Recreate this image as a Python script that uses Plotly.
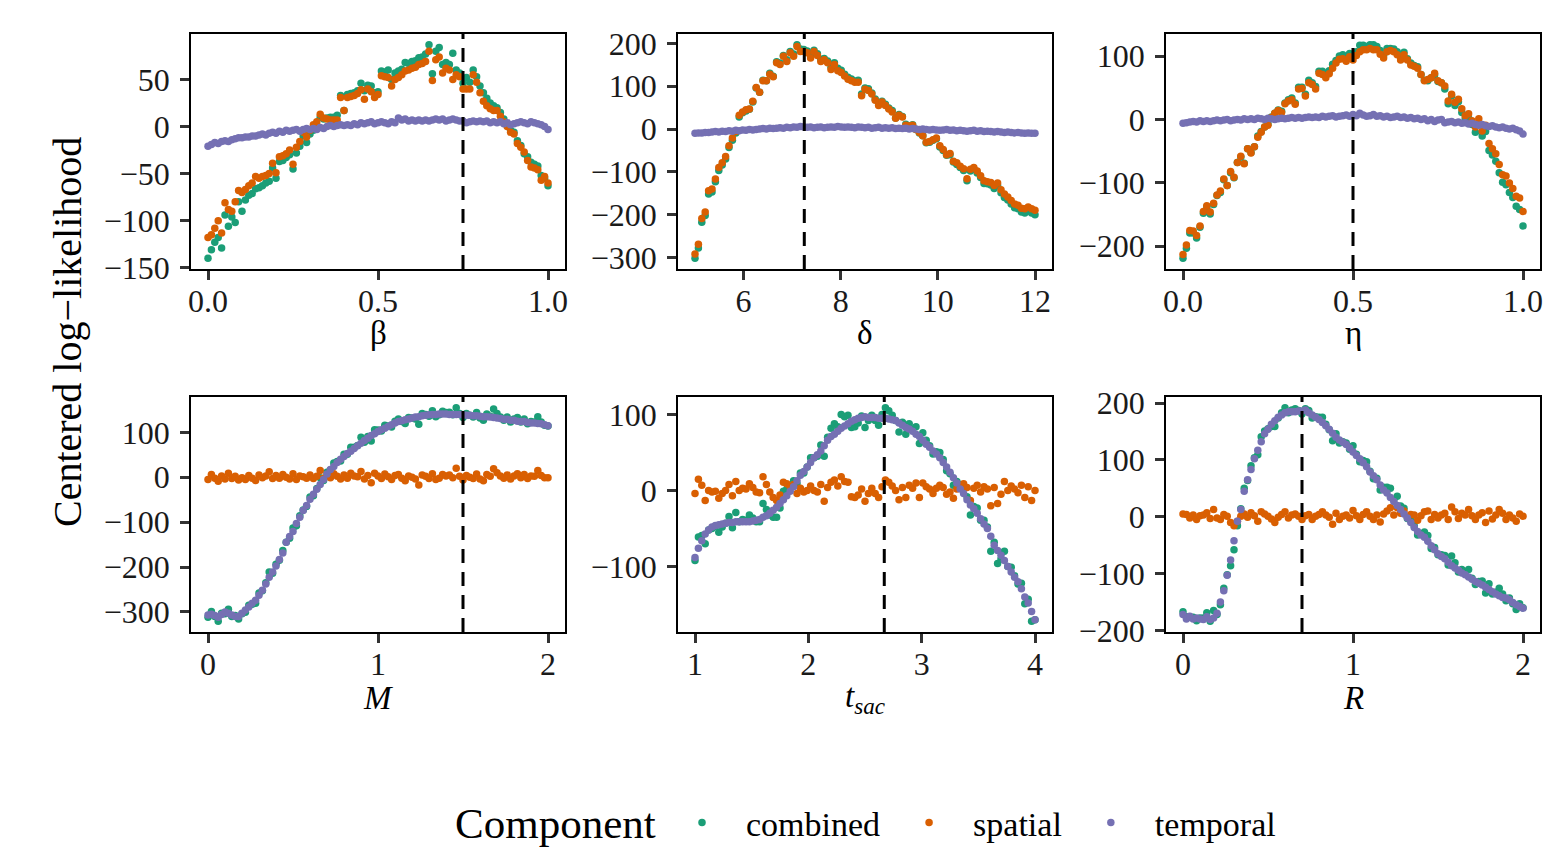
import numpy as np
import plotly.graph_objects as go

# ---- data: centred log-likelihood profiles, one grid per parameter ----
beta_combined = [-140, -131, -123, -118, -129, -94, -106, -96, -102, -80,
                 -90, -78, -73, -71, -66, -65, -63, -60, -58, -44,
                 -55, -37, -36, -33, -30, -45, -28, -21, -10, -17,
                 -8, -4, 1, 10, 8, 9, 10, 10, 12, 33,
                 17, 34, 35, 36, 38, 46, 38, 44, 43, 36,
                 37, 59, 58, 60, 50, 57, 59, 61, 68, 67,
                 69, 70, 73, 74, 77, 87, 56, 80, 84, 66,
                 68, 66, 78, 60, 57, 46, 52, 47, 60, 53,
                 43, 36, 30, 25, 22, 20, 15, 8, 2, -4,
                 -6, -15, -20, -29, -32, -38, -40, -42, -52, -55, -63]
beta_spatial = [-118, -115, -108, -100, -113, -81, -88, -90, -80, -68,
                -70, -67, -63, -60, -53, -55, -53, -52, -50, -39,
                -49, -32, -31, -29, -25, -40, -22, -16, -6, -11,
                -4, 2, 5, 13, 9, 8, 7, 7, 7, 31,
                17, 31, 32, 33, 35, 39, 29, 40, 37, 31,
                34, 54, 53, 52, 43, 50, 52, 55, 59, 60,
                62, 63, 66, 67, 69, 80, 49, 71, 74, 57,
                62, 60, 50, 55, 53, 40, 40, 40, 55, 47,
                36, 27, 22, 19, 17, 17, 11, 5, 0, -6,
                -8, -18, -22, -27, -36, -43, -44, -46, -57, -53, -60]
beta_temporal = [-21, -19, -17, -18, -16, -15, -16, -14, -13, -12,
                 -12, -11, -11, -10, -10, -9, -8, -9, -7, -6,
                 -7, -5, -6, -4, -5, -4, -3, -5, -3, -2,
                 -3, -2, -3, -1, -2, 0, 1, 0, 1, 2,
                 1, 2, 1, 3, 2, 4, 3, 4, 5, 3,
                 4, 5, 4, 3, 5, 4, 9, 7, 8, 6,
                 7, 6, 7, 6, 7, 6, 7, 8, 7, 8,
                 6, 7, 8, 7, 6, 6, 4, 5, 6, 5,
                 6, 5, 6, 4, 5, 4, 5, 3, 4, 2,
                 3, 4, 5, 4, 3, 5, 4, 3, 2, 0, -3]

delta_combined = [-302, -278, -218, -202, -152, -147, -123, -97, -84, -70,
                  -43, -26, -9, 28, 38, 42, 46, 63, 96, 86,
                  114, 113, 130, 123, 157, 154, 172, 162, 181, 175,
                  197, 187, 186, 182, 171, 184, 176, 163, 165, 159,
                  144, 155, 142, 137, 128, 121, 117, 112, 114, 82,
                  96, 94, 84, 70, 59, 65, 58, 49, 43, 26,
                  34, 29, 11, 7, 10, -1, -9, -16, -32, -31,
                  -26, -23, -42, -50, -61, -60, -77, -83, -90, -97,
                  -121, -98, -93, -103, -113, -127, -128, -131, -139, -132,
                  -149, -160, -166, -175, -184, -186, -194, -196, -191, -196, -200]
delta_spatial = [-292, -269, -209, -194, -144, -140, -117, -90, -79, -64,
                 -39, -21, -6, 32, 40, 45, 47, 65, 97, 86,
                 113, 113, 128, 122, 155, 151, 170, 158, 178, 170,
                 193, 181, 181, 178, 166, 181, 172, 158, 162, 155,
                 139, 151, 136, 132, 124, 116, 113, 109, 109, 78,
                 93, 90, 82, 67, 55, 63, 55, 47, 40, 25,
                 32, 28, 9, 7, 9, -1, -8, -16, -31, -29,
                 -25, -21, -39, -48, -60, -57, -75, -79, -87, -93,
                 -116, -94, -90, -98, -109, -121, -123, -125, -132, -126,
                 -142, -152, -159, -167, -175, -178, -185, -186, -182, -186, -190]
delta_temporal = [-10, -9, -9, -8, -8, -7, -6, -7, -5, -6,
                  -4, -5, -3, -4, -2, -3, -1, -2, -1, 0,
                  1, 0, 2, 1, 2, 3, 2, 4, 3, 5,
                  4, 6, 5, 4, 5, 3, 4, 5, 3, 4,
                  5, 4, 6, 5, 4, 5, 4, 3, 5, 4,
                  3, 4, 2, 3, 4, 2, 3, 2, 3, 1,
                  2, 1, 2, 0, 1, 0, -1, 0, -1, -2,
                  -1, -2, -3, -2, -1, -3, -2, -4, -3, -4,
                  -5, -4, -3, -5, -4, -6, -5, -6, -7, -6,
                  -7, -8, -7, -8, -9, -8, -9, -10, -9, -10, -10]

eta_combined = [-219, -203, -179, -179, -187, -170, -148, -138, -149, -134,
                -120, -115, -95, -104, -84, -92, -68, -59, -69, -46,
                -52, -43, -26, -19, -12, -7, 4, 10, 15, 13,
                26, 31, 34, 26, 51, 51, 40, 62, 58, 52,
                76, 76, 70, 77, 87, 93, 100, 102, 99, 104,
                102, 107, 117, 117, 115, 118, 118, 115, 109, 101,
                112, 112, 111, 107, 97, 106, 96, 89, 85, 83,
                71, 62, 61, 66, 70, 60, 58, 48, 25, 37,
                22, 28, 11, 1, 2, -8, -20, -8, -26, -19,
                -49, -56, -66, -84, -99, -103, -115, -123, -137, -142, -168]
eta_spatial = [-213, -198, -175, -176, -183, -168, -145, -136, -146, -132,
               -119, -113, -94, -104, -82, -91, -68, -58, -70, -46,
               -53, -43, -28, -20, -12, -9, 3, 10, 14, 11,
               25, 29, 31, 24, 48, 49, 37, 58, 55, 48,
               73, 71, 66, 72, 81, 89, 95, 96, 92, 99,
               94, 101, 107, 110, 110, 112, 110, 110, 103, 97,
               107, 109, 107, 102, 94, 102, 94, 86, 84, 81,
               71, 61, 63, 66, 73, 61, 58, 53, 29, 40,
               27, 32, 17, 6, 9, -2, -12, 1, -18, -9,
               -38, -46, -54, -71, -87, -89, -100, -109, -121, -124, -145]
eta_temporal = [-6, -5, -4, -3, -4, -2, -3, -2, -3, -2,
                -1, -2, -1, 0, -2, -1, 0, -1, 1, 0,
                1, 0, 2, 1, 0, 2, 1, 0, 1, 2,
                1, 2, 3, 2, 3, 2, 3, 4, 3, 4,
                3, 5, 4, 5, 6, 4, 5, 6, 7, 5,
                8, 6, 10, 7, 5, 6, 8, 5, 6, 4,
                5, 3, 4, 5, 3, 4, 2, 3, 1, 2,
                0, 1, -2, 0, -3, -1, 0, -5, -4, -3,
                -5, -4, -6, -5, -7, -6, -8, -9, -8, -10,
                -11, -10, -12, -13, -12, -14, -15, -14, -16, -18, -23]

M_combined = [-312, -299, -310, -321, -303, -304, -294, -310, -308, -316,
              -304, -301, -285, -283, -281, -258, -253, -235, -211, -214,
              -194, -185, -163, -145, -136, -113, -108, -86, -73, -65,
              -44, -41, -25, -1, -7, 11, 16, 32, 35, 36,
              51, 51, 67, 67, 71, 89, 78, 91, 81, 106,
              105, 103, 116, 114, 112, 125, 130, 124, 120, 133,
              132, 130, 118, 142, 140, 136, 148, 135, 139, 147,
              144, 145, 139, 155, 142, 133, 142, 138, 134, 144,
              132, 127, 141, 136, 152, 142, 134, 127, 134, 123,
              130, 133, 123, 130, 119, 124, 123, 135, 123, 116, 114]
M_spatial = [-5, 6, -2, -9, 3, -4, 9, -3, 2, -6,
             -1, -5, 4, -2, -7, 5, -1, 3, 12, -3,
             4, -2, 6, 0, -4, 8, -5, 3, 1, -2,
             5, -3, 2, 15, -2, 4, -1, 8, 2, -4,
             5, -2, 9, 3, 1, 13, -4, 4, -12, 9,
             3, -3, 7, 1, -5, 4, 6, -2, -8, 3,
             0, -4, -17, 5, 2, -3, 8, -5, -2, 6,
             3, 5, -1, 20, 2, -6, 4, 0, -3, 7,
             -4, -8, 6, 2, 19, 10, 3, -2, 5, -4,
             3, 8, -1, 6, -3, 3, 2, 15, 4, -1, -1]
M_temporal = [-307, -305, -308, -312, -306, -300, -303, -307, -310, -310,
              -303, -296, -289, -281, -274, -263, -252, -238, -223, -211,
              -198, -183, -169, -145, -132, -121, -103, -89, -74, -63,
              -49, -38, -27, -16, -5, 7, 17, 24, 33, 40,
              46, 53, 58, 64, 70, 76, 82, 87, 93, 97,
              102, 106, 109, 113, 117, 121, 124, 126, 128, 130,
              132, 134, 135, 137, 138, 139, 140, 140, 141, 141,
              141, 140, 140, 140, 140, 139, 138, 138, 137, 137,
              136, 135, 135, 134, 133, 132, 131, 129, 129, 127,
              127, 125, 124, 124, 122, 121, 121, 120, 119, 117, 115]

tsac_combined = [-92, -61, -59, -70, -52, -50, -47, -55, -48, -43,
                 -34, -49, -29, -41, -38, -39, -32, -36, -41, -41,
                 -17, -25, -32, -35, -35, -23, -1, 2, 4, 13,
                 9, 23, 23, 31, 43, 43, 45, 60, 45, 70,
                 82, 88, 84, 100, 97, 99, 83, 84, 89, 98,
                 83, 92, 99, 92, 86, 100, 109, 105, 99, 92,
                 77, 90, 74, 88, 81, 84, 62, 76, 66, 59,
                 48, 51, 50, 41, 26, 22, 7, 12, 8, 5,
                 -8, -32, -21, -23, -39, -39, -48, -80, -68, -96,
                 -90, -80, -100, -101, -112, -123, -122, -149, -143, -172, -170]
tsac_spatial = [-4, 15, 7, -13, 0, -2, -1, -10, -4, 0,
                8, -7, 12, 0, 3, 2, 9, 4, -2, -3,
                18, 8, -2, -9, -13, -6, 11, 9, 5, 8,
                -4, 3, -2, 0, 6, 0, -2, 8, -14, 4,
                11, 14, 6, 18, 12, 11, -8, -9, -6, 2,
                -14, -4, 3, -4, -9, 5, 14, 11, 6, 0,
                -12, 4, -9, 7, 3, 10, -9, 10, 5, 2,
                -4, 3, 7, 4, -5, -2, -10, 2, 6, 9,
                4, -13, 3, 7, -2, 5, 2, -20, 4, -17,
                -5, 12, 0, 6, 2, -3, 7, -9, 5, -13, 0]
tsac_temporal = [-88, -76, -66, -57, -52, -48, -46, -45, -44, -43,
                 -42, -42, -41, -41, -41, -41, -41, -40, -39, -38,
                 -35, -33, -30, -26, -22, -17, -12, -7, -1, 5,
                 13, 20, 25, 31, 37, 43, 47, 52, 59, 66,
                 71, 74, 78, 82, 85, 88, 91, 93, 95, 96,
                 97, 96, 96, 96, 95, 95, 95, 94, 93, 92,
                 89, 86, 83, 81, 78, 74, 71, 66, 61, 57,
                 52, 48, 43, 37, 31, 24, 17, 10, 2, -4,
                 -12, -19, -24, -30, -37, -44, -50, -60, -72, -79,
                 -85, -92, -100, -107, -114, -120, -129, -140, -148, -159, -170]

R_combined = [-167, -176, -177, -177, -183, -178, -178, -169, -184, -165,
              -172, -155, -126, -102, -86, -58, -16, 14, 50, 64,
              90, 104, 109, 141, 151, 155, 159, 159, 174, 183,
              192, 183, 188, 190, 187, 181, 190, 187, 174, 176,
              175, 175, 163, 153, 134, 146, 130, 132, 130, 119,
              125, 110, 97, 99, 97, 80, 67, 68, 47, 52,
              52, 50, 30, 36, 19, 15, -3, -6, -16, -32,
              -30, -27, -33, -56, -54, -67, -67, -68, -85, -69,
              -81, -97, -93, -99, -93, -108, -119, -114, -113, -134,
              -118, -136, -133, -126, -136, -148, -143, -153, -163, -153, -160]
R_spatial = [5, 4, -2, 3, -5, 2, 3, 7, -3, 13,
             -2, -5, 4, 1, -10, -16, -8, 1, 5, -1,
             7, 2, -8, 9, 5, 1, -4, -10, -1, 4,
             9, -2, 3, 5, 1, -5, 2, 4, -5, 1,
             4, 9, 3, -1, -13, 6, -5, 1, 3, -2,
             11, 2, -5, 4, 9, 1, -5, 3, -9, 5,
             10, 16, 3, 16, 6, 10, -1, 4, 3, -6,
             2, 9, 10, -5, 4, -2, 3, 6, -5, 17,
             9, -3, 6, 3, 13, 2, -5, 3, 7, -10,
             10, -4, 3, 13, 6, -5, 3, -2, -8, 5, 1]
R_temporal = [-172, -180, -175, -180, -178, -180, -181, -176, -181, -178,
              -170, -150, -130, -103, -76, -42, -8, 13, 45, 65,
              83, 102, 117, 132, 146, 154, 163, 169, 175, 179,
              183, 185, 185, 185, 186, 186, 188, 183, 179, 175,
              171, 166, 160, 154, 147, 140, 135, 131, 127, 121,
              114, 108, 102, 95, 88, 79, 72, 65, 56, 47,
              42, 34, 27, 20, 13, 5, -2, -10, -19, -26,
              -32, -36, -43, -51, -58, -65, -70, -74, -80, -86,
              -90, -94, -99, -102, -106, -110, -114, -117, -120, -124,
              -128, -132, -136, -139, -142, -143, -146, -151, -155, -158, -161]

# parameter grids (lower, upper) and true values (dashed lines)
grid_bounds = [(0, 1), (5, 12), (0, 1), (0, 2), (1, 4), (0, 2)]
true_values = [0.75, 7.25, 0.5, 1.5, 2.67, 0.7]
param_labels = ["β", "δ", "η", "<i>M</i>", "<i>t</i><sub><i>sac</i></sub>", "<i>R</i>"]

x_ticks = [[0, 0.5, 1], [6, 8, 10, 12], [0, 0.5, 1], [0, 1, 2], [1, 2, 3, 4], [0, 1, 2]]
x_ticktext = [["0.0", "0.5", "1.0"], ["6", "8", "10", "12"], ["0.0", "0.5", "1.0"],
              ["0", "1", "2"], ["1", "2", "3", "4"], ["0", "1", "2"]]
y_ticks = [[-150, -100, -50, 0, 50], [-300, -200, -100, 0, 100, 200], [-200, -100, 0, 100],
           [-300, -200, -100, 0, 100], [-100, 0, 100], [-200, -100, 0, 100, 200]]

components = ["combined", "spatial", "temporal"]
colors = {"combined": "#1B9E77", "spatial": "#D95F02", "temporal": "#7570B3"}

panel_data = [
    (beta_combined, beta_spatial, beta_temporal),
    (delta_combined, delta_spatial, delta_temporal),
    (eta_combined, eta_spatial, eta_temporal),
    (M_combined, M_spatial, M_temporal),
    (tsac_combined, tsac_spatial, tsac_temporal),
    (R_combined, R_spatial, R_temporal),
]

W, H = 1567, 852
col_px = [(191, 565), (678, 1052), (1166, 1540)]
row_px = [(34, 269), (397, 632)]
title_px = [333, 698]

FONT = "Liberation Serif"
fig = go.Figure()
layout = dict(
    width=W, height=H, margin=dict(l=0, r=0, t=0, b=0, autoexpand=False),
    paper_bgcolor="white", plot_bgcolor="white",
    font=dict(family=FONT, color="black"),
)
shapes = []
annotations = []

for k in range(6):
    r, c = divmod(k, 3)
    n = "" if k == 0 else str(k + 1)
    lo, hi = grid_bounds[k]
    allvals = []
    for comp, vals in zip(components, panel_data[k]):
        xs = np.linspace(lo, hi, len(vals))
        allvals += list(vals)
        fig.add_trace(go.Scatter(
            x=xs, y=vals, mode="markers", name=comp,
            marker=dict(color=colors[comp], size=7.5),
            xaxis="x" + n, yaxis="y" + n,
            showlegend=(k == 0), legendgroup=comp,
        ))
    ymin, ymax = min(allvals), max(allvals)
    pad_y = 0.05 * (ymax - ymin)
    pad_x = 0.05 * (hi - lo)
    x0, x1 = col_px[c]
    y0, y1 = row_px[r]
    common = dict(showline=True, mirror=True, linecolor="black", linewidth=1.8,
                  ticks="outside", ticklen=9, tickwidth=2.5, tickcolor="#333333",
                  showgrid=False, zeroline=False, automargin=False,
                  tickfont=dict(family=FONT, size=32, color="#1a1a1a"))
    layout["xaxis" + n] = dict(common, domain=[x0 / W, x1 / W], anchor="y" + n,
                               range=[lo - pad_x, hi + pad_x], ticklabelstandoff=-6,
                               tickvals=x_ticks[k], ticktext=x_ticktext[k])
    layout["yaxis" + n] = dict(common, domain=[1 - y1 / H, 1 - y0 / H], anchor="x" + n,
                               range=[ymin - pad_y, ymax + pad_y],
                               tickvals=y_ticks[k], ticklabelstandoff=4,
                               ticktext=[str(v).replace("-", "−") for v in y_ticks[k]])
    shapes.append(dict(type="line", xref="x" + n, yref="y" + n + " domain",
                       x0=true_values[k], x1=true_values[k], y0=0, y1=1,
                       line=dict(color="black", width=3, dash="14px,9px")))
    annotations.append(dict(text=param_labels[k], xref="x" + n + " domain", x=0.5,
                            yref="paper", y=1 - title_px[r] / H, yanchor="middle",
                            showarrow=False, font=dict(family=FONT, size=33, color="black")))

annotations.append(dict(text="Centered log−likelihood", textangle=-90,
                        xref="paper", x=67 / W, yref="paper", y=1 - 332 / H,
                        xanchor="center", yanchor="middle", showarrow=False,
                        font=dict(family=FONT, size=40, color="black")))
# legend title drawn separately so it sits on the same line as the entries
annotations.append(dict(text="Component", xref="paper", x=555 / W, yref="paper",
                        y=1 - 823 / H, xanchor="center", yanchor="middle", showarrow=False,
                        font=dict(family=FONT, size=43, color="black")))

layout["shapes"] = shapes
layout["annotations"] = annotations
layout["legend"] = dict(orientation="h", x=658 / W, xanchor="left", y=1 - 823 / H,
                        yanchor="middle", itemwidth=78,
                        font=dict(family=FONT, size=34, color="black"))
fig.update_layout(**layout)

# the page's default body margin would shift the whole figure by 8 px
fig.write_html("out.html", config={"displayModeBar": False},
               post_script="document.body.style.margin='0';")
